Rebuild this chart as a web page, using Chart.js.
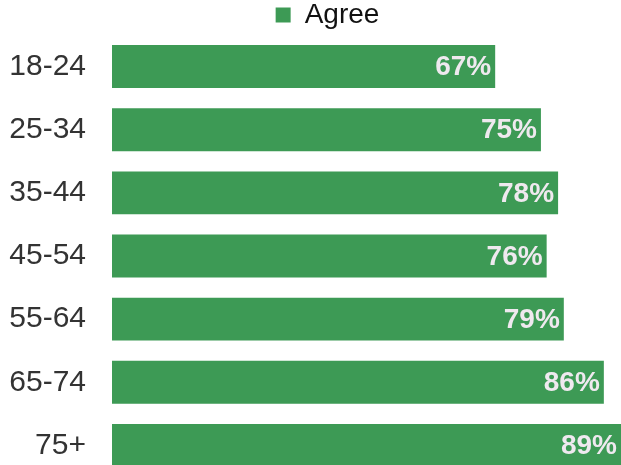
<!DOCTYPE html>
<html>
<head>
<meta charset="utf-8">
<script src="https://cdn.jsdelivr.net/npm/chart.js@4/dist/chart.umd.min.js"></script>
<style>
    html, body { margin: 0; padding: 0; background: #fff; overflow: hidden; }
    canvas { display: block; }
</style>
</head>
<body>
<canvas id="ageChart" width="621" height="477"></canvas>
<script>
// ข้อมูลกราฟ
const ageGroups = ['18-24', '25-34', '35-44', '45-54', '55-64', '65-74', '75+'];
const agreeValues = [67, 75, 78, 76, 79, 86, 89];
const seriesName = 'Agree';

const barColor = '#3d9a55';
const labelColor = '#efe9ef';
const fontFamily = '"Liberation Sans", Arial, sans-serif';

// วาดป้ายค่าไว้ที่ปลายแท่ง
const valueLabels = {
    id: 'valueLabels',
    afterDatasetsDraw(chart) {
        const ctx = chart.ctx;
        const meta = chart.getDatasetMeta(0);
        ctx.save();
        ctx.font = 'bold 28px ' + fontFamily;
        ctx.fillStyle = labelColor;
        ctx.textAlign = 'right';
        ctx.textBaseline = 'middle';
        meta.data.forEach((bar, i) => {
            ctx.fillText(agreeValues[i] + '%', bar.x - 4, bar.y + 1);
        });
        ctx.restore();
    }
};

// ปรับตำแหน่ง legend: เลื่อนขวาเล็กน้อยและลดความสูง
const legendTweak = {
    id: 'legendTweak',
    beforeLayout(chart) {
        const lg = chart.legend;
        if (lg && !lg._tweaked) {
            const fit = lg.fit.bind(lg);
            lg.fit = function () {
                fit();
                this.height -= 4;
            };
            lg._tweaked = true;
        }
    },
    afterLayout(chart) {
        chart.legend.left += 17;
        chart.legend.right += 17;
    }
};

const ctx = document.getElementById('ageChart').getContext('2d');
new Chart(ctx, {
    type: 'bar',
    data: {
        labels: ageGroups,
        datasets: [
            {
                label: seriesName,
                data: agreeValues,
                backgroundColor: barColor,
                borderWidth: 0,
                categoryPercentage: 1,
                barPercentage: 0.68,
            },
        ],
    },
    options: {
        indexAxis: 'y',
        responsive: false,
        animation: false,
        layout: { padding: 0 },
        scales: {
            x: {
                display: false,
                min: 0,
                max: 89,
            },
            y: {
                grid: { display: false, drawTicks: false },
                border: { display: false },
                ticks: {
                    color: '#333',
                    padding: 26,
                    font: { family: fontFamily, size: 30 },
                },
                afterFit(scale) {
                    scale.width = 112;
                    scale.paddingTop = 0;
                    scale.paddingBottom = 0;
                },
            },
        },
        plugins: {
            legend: {
                position: 'top',
                labels: {
                    boxWidth: 15,
                    boxHeight: 15,
                    padding: 1,
                    color: '#111',
                    font: { family: fontFamily, size: 28 },
                },
            },
            tooltip: { enabled: false },
        },
    },
    plugins: [valueLabels, legendTweak],
});
</script>
</body>
</html>
